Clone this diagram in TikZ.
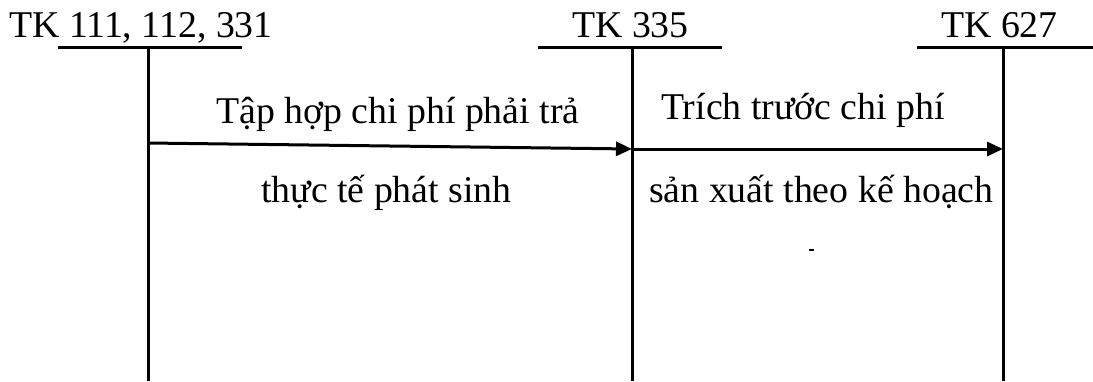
\documentclass[tikz,border=0pt]{standalone}
\usepackage{fontspec}
\setmainfont{Liberation Serif}
\usetikzlibrary{arrows.meta}
\begin{document}
\begin{tikzpicture}[x=1pt,y=-1pt,
  acct/.style={line width=3pt},
  flow/.style={line width=3pt,-{Triangle[length=16pt,width=14pt]}},
  lbl/.style={anchor=base west,inner sep=0pt,font=\fontsize{37.8}{42}\selectfont}]
\useasboundingbox (0,0) rectangle (1093,381);
% T-account skeletons
\coordinate (a1top) at (148,47);  \coordinate (a1bot) at (148,381);
\coordinate (a2top) at (632,47);  \coordinate (a2bot) at (632,381);
\coordinate (a3top) at (1003,47); \coordinate (a3bot) at (1003,381);
\coordinate (a1l) at (58,47);  \coordinate (a1r) at (242,47);
\coordinate (a2l) at (538,47); \coordinate (a2r) at (722,47);
\coordinate (a3l) at (917,47); \coordinate (a3r) at (1093,47);
\draw[acct] (a1l) -- (a1r);
\draw[acct] (a2l) -- (a2r);
\draw[acct] (a3l) -- (a3r);
\draw[acct] (a1top) -- (a1bot);
\draw[acct] (a2top) -- (a2bot);
\draw[acct] (a3top) -- (a3bot);
% account titles
\node[lbl] (t1) at (9,37) {TK 111, 112, 331};
\node[lbl] (t2) at (572,37) {TK 335};
\node[lbl] (t3) at (941,37) {TK 627};
% flows between accounts
\coordinate (s1) at (148,143);
\coordinate (e1) at (632,149);
\coordinate (e2) at (1003,149);
\draw[flow] (s1) -- (e1);
\draw[flow] (e1) -- (e2);
% flow descriptions
\node[lbl] (l1) at (216,123) {Tập hợp chi phí phải trả};
\node[lbl] (l2) at (261,202) {thực tế phát sinh};
\node[lbl] (l3) at (661,119) {Trích trước chi phí};
\node[lbl] (l4) at (649,202) {sản xuất theo kế hoạch};
% stray mark
\coordinate (m1) at (809,250); \coordinate (m2) at (814,250);
\draw[line width=1.5pt] (m1) -- (m2);
\end{tikzpicture}
\end{document}
